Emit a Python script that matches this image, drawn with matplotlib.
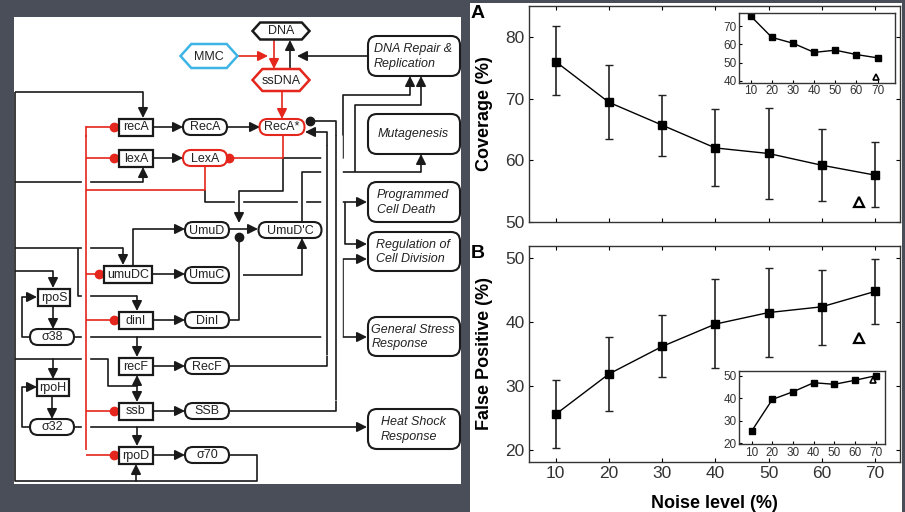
import matplotlib
matplotlib.use('Agg')
import matplotlib.pyplot as plt
from matplotlib.patches import Rectangle, FancyBboxPatch, Polygon
import matplotlib.patheffects as pe

plt.rcParams['font.family'] = ['Liberation Sans', 'DejaVu Sans']

# ---- chart data ----
noise = [10, 20, 30, 40, 50, 60, 70]
coverage = [76.0, 69.4, 65.7, 62.0, 61.1, 59.2, 57.6]
coverage_hi = [81.7, 75.4, 70.6, 68.3, 68.4, 65.0, 62.9]
coverage_lo = [70.5, 63.4, 60.7, 55.9, 53.7, 53.4, 52.4]
false_pos = [25.6, 31.9, 36.2, 39.7, 41.5, 42.4, 44.8]
false_pos_hi = [30.9, 37.7, 41.1, 46.7, 48.4, 48.2, 49.9]
false_pos_lo = [20.4, 26.1, 31.4, 32.9, 34.5, 36.5, 39.7]
tri_cov = (67, 53.3)
tri_fp = (67, 37.6)
inset_cov = [75.5, 63.8, 60.6, 55.6, 56.8, 54.4, 52.6]
inset_tri_cov = (69, 42.3)
inset_fp = [25.5, 39.5, 42.9, 46.9, 46.2, 48.0, 50.0]
inset_tri_fp = (68.5, 48.0)

# ---- network diagram (pixel layout) ----
RED = '#e4261c'
BLUE = '#3cb4e6'
INK = '#1a1a1a'

genes = [('recA', 136, 127, 34), ('lexA', 136, 158, 34), ('umuDC', 128, 274, 48),
         ('dinI', 136, 320, 34), ('recF', 136, 366, 34), ('ssb', 136, 411, 34),
         ('rpoD', 136, 455, 34), ('rpoS', 54, 297, 32), ('rpoH', 53, 387, 32)]
proteins = [('RecA', 205, 127, 44, INK), ('RecA*', 282, 127, 45, RED), ('LexA', 205, 158, 44, RED),
            ('UmuD', 207, 230, 44, INK), ("UmuD'C", 290, 230, 63, INK), ('UmuC', 207, 275, 44, INK),
            ('DinI', 207, 320, 44, INK), ('RecF', 207, 366, 44, INK), ('SSB', 207, 411, 44, INK),
            ('σ70', 207, 455, 44, INK), ('σ38', 52, 337, 44, INK), ('σ32', 52, 427, 44, INK)]
hexes = [('DNA', 281, 31, 57, 17, INK), ('MMC', 209, 56, 57, 24, BLUE), ('ssDNA', 281, 80, 57, 22, RED)]
phenos = [('DNA Repair &\nReplication', 36, 76, 'left'), ('Mutagenesis', 114, 154, 'center'),
          ('Programmed\nCell Death', 182, 222, 'left'), ('Regulation of\nCell Division', 232, 271, 'left'),
          ('General Stress\nResponse', 317, 356, 'left'), ('Heat Shock\nResponse', 409, 449, 'left')]

# polylines: points, end ('arrow', 'dot', None), colour
edges = [
    ([(237, 56), (268, 56)], 'arrow', RED),
    ([(274, 40), (274, 69)], 'arrow', RED),
    ([(290, 69), (290, 40)], 'arrow', INK),
    ([(368, 56), (297, 56)], 'arrow', INK),
    ([(282, 91), (282, 119)], 'arrow', RED),
    ([(153, 127), (183, 127)], 'arrow', INK),
    ([(227, 127), (260, 127)], 'arrow', INK),
    ([(153, 158), (183, 158)], 'arrow', INK),
    ([(15, 92), (143, 92), (143, 118)], 'arrow', INK),
    ([(15, 92), (15, 481), (257, 481), (257, 455), (230, 455)], None, INK),
    ([(136, 481), (136, 464)], 'arrow', INK),
    ([(15, 182), (143, 182), (143, 167)], 'arrow', INK),
    ([(15, 248), (123, 248), (123, 265)], 'arrow', INK),
    ([(78, 248), (78, 296), (137, 296), (137, 311)], 'arrow', INK),
    ([(15, 271), (53, 271), (53, 288)], 'arrow', INK),
    ([(15, 359), (108, 359), (108, 386), (137, 386), (137, 375)], 'arrow', INK),
    ([(137, 386), (137, 402)], 'arrow', INK),
    ([(53, 359), (53, 379)], 'arrow', INK),
    ([(53, 306), (53, 329)], 'arrow', INK),
    ([(30, 337), (22, 337), (22, 297), (37, 297)], 'arrow', INK),
    ([(52, 396), (52, 419)], 'arrow', INK),
    ([(30, 427), (22, 427), (22, 387), (37, 387)], 'arrow', INK),
    ([(74, 337), (367, 337)], 'arrow', INK),
    ([(137, 337), (137, 357)], 'arrow', INK),
    ([(343, 337), (343, 259), (367, 259)], 'arrow', INK),
    ([(74, 427), (367, 427)], 'arrow', INK),
    ([(137, 427), (137, 446)], 'arrow', INK),
    ([(133, 265), (133, 229), (185, 229)], 'arrow', INK),
    ([(152, 274), (185, 274)], 'arrow', INK),
    ([(152, 320), (185, 320)], 'arrow', INK),
    ([(152, 366), (185, 366)], 'arrow', INK),
    ([(152, 411), (185, 411)], 'arrow', INK),
    ([(152, 455), (185, 455)], 'arrow', INK),
    ([(230, 229), (258, 229)], 'arrow', INK),
    ([(283, 158), (283, 191), (239, 191), (239, 223)], 'arrow', INK),
    ([(283, 158), (343, 158), (343, 95), (410, 95), (410, 76)], 'arrow', INK),
    ([(230, 320), (239, 320), (239, 237)], 'dot', INK),
    ([(243, 275), (302, 275), (302, 238)], 'arrow', INK),
    ([(302, 222), (302, 172), (421, 172), (421, 154)], 'arrow', INK),
    ([(355, 172), (355, 105), (421, 105), (421, 76)], 'arrow', INK),
    ([(205, 190), (205, 202), (367, 202)], 'arrow', INK),
    ([(345, 202), (345, 244), (367, 244)], 'arrow', INK),
    ([(230, 366), (327, 366), (327, 132), (305, 132)], 'arrow', INK),
    ([(230, 411), (336, 411), (336, 121), (310, 121)], 'dot', INK),
]
# vertical runs that pass over crossing lines (start, end, colour, halo width)
bridges = [((327, 145), (327, 355), INK, 9), ((336, 135), (336, 400), INK, 9),
           ((239, 196), (239, 208), INK, 6), ((302, 190), (302, 214), INK, 6),
           ((86, 135), (86, 450), RED, 6)]
red_edges = [
    ([(283, 135), (283, 158), (229, 158)], 'dot'),
    ([(205, 167), (205, 190), (86, 190)], None),
    ([(86, 127), (114, 127)], 'dot'),
    ([(86, 158), (114, 158)], 'dot'),
    ([(86, 274), (99, 274)], 'dot'),
    ([(86, 320), (114, 320)], 'dot'),
    ([(86, 411), (114, 411)], 'dot'),
    ([(86, 455), (114, 455)], 'dot'),
    ([(86, 126.4), (86, 137)], None),
]

fig = plt.figure(figsize=(9.05, 5.12), dpi=100)
fig.patch.set_facecolor('#4a4e58')

dg = fig.add_axes([0, 0, 1, 1])
dg.set_xlim(0, 905)
dg.set_ylim(512, 0)
dg.axis('off')

dg.add_patch(Rectangle((14, 17), 447, 467, facecolor='white', edgecolor='none'))
dg.add_patch(Rectangle((470, 3), 432, 509, facecolor='white', edgecolor='none'))

LW = 1.2


def draw_edge(pts, end, color, z=2):
    xs = [p[0] for p in pts]
    ys = [p[1] for p in pts]
    if end == 'arrow':
        dg.plot(xs[:-1], ys[:-1], color=color, lw=LW, zorder=z, solid_capstyle='butt')
        dg.annotate('', xy=pts[-1], xytext=pts[-2],
                    arrowprops=dict(arrowstyle='-|>,head_length=0.6,head_width=0.3',
                                    color=color, lw=LW, shrinkA=0, shrinkB=0,
                                    mutation_scale=10), zorder=z)
    else:
        dg.plot(xs, ys, color=color, lw=LW, zorder=z, solid_capstyle='butt')
        if end == 'dot':
            dg.plot(xs[-1], ys[-1], 'o', color=color, ms=6, zorder=z + 1)


for pts, end, col in edges:
    draw_edge(pts, end, col)

for p0, p1, col, hw in bridges:
    dg.plot([p0[0], p1[0]], [p0[1], p1[1]], color=col, lw=LW, zorder=3,
            solid_capstyle='butt',
            path_effects=[pe.Stroke(linewidth=hw, foreground='white', capstyle='butt'),
                          pe.Normal()])

for pts, end in red_edges:
    draw_edge(pts, end, RED, z=4)

for name, cx, cy, w in genes:
    dg.add_patch(Rectangle((cx - w / 2, cy - 8.5), w, 17, facecolor='white',
                           edgecolor=INK, lw=1.6, zorder=5))
    dg.text(cx, cy + 0.5, name, ha='center', va='center', fontsize=9, color='#222', zorder=6)

for name, cx, cy, w, col in proteins:
    dg.add_patch(FancyBboxPatch((cx - w / 2, cy - 8), w, 16,
                                boxstyle='round,pad=0,rounding_size=8',
                                facecolor='white', edgecolor=col, lw=1.5, zorder=5))
    dg.text(cx, cy + 0.5, name, ha='center', va='center', fontsize=9, color='#222', zorder=6)

for name, cx, cy, w, h, col in hexes:
    k = h * 0.45
    hx = [(cx - w / 2, cy), (cx - w / 2 + k, cy - h / 2), (cx + w / 2 - k, cy - h / 2),
          (cx + w / 2, cy), (cx + w / 2 - k, cy + h / 2), (cx - w / 2 + k, cy + h / 2)]
    dg.add_patch(Polygon(hx, closed=True, facecolor='white', edgecolor=col,
                         lw=1.8, zorder=5))
    dg.text(cx, cy + 0.5, name, ha='center', va='center', fontsize=9, color='#222', zorder=6)

for name, y0, y1, al in phenos:
    dg.add_patch(FancyBboxPatch((368, y0), 92, y1 - y0,
                                boxstyle='round,pad=0,rounding_size=9',
                                facecolor='white', edgecolor=INK, lw=1.5, zorder=5))
    dg.text(413, (y0 + y1) / 2 + 0.5, name, ha='center', va='center', fontsize=9,
            style='italic', color='#222', linespacing=1.25, multialignment=al, zorder=6)


# ---- line charts ----
def style_axes(ax, fs):
    ax.tick_params(direction='in', top=True, right=True, length=3, width=0.8,
                   labelsize=fs, labelcolor='#333', pad=3)
    for s in ax.spines.values():
        s.set_linewidth(1.0)
        s.set_color('#333')


W, H = 905.0, 512.0

axA = fig.add_axes([529 / W, 1 - 222 / H, 371 / W, 216 / H])
axA.errorbar(noise, coverage,
             yerr=[[c - l for c, l in zip(coverage, coverage_lo)],
                   [h - c for c, h in zip(coverage, coverage_hi)]],
             fmt='s-', color='black', ms=6, lw=1.0, ecolor='#222', elinewidth=1.2, capsize=3)
axA.plot(tri_cov[0], tri_cov[1], '^', mfc='white', mec='black', ms=7, mew=1.6)
axA.set_xlim(5, 74.7)
axA.set_ylim(50, 85)
axA.set_xticks(noise)
axA.set_xticklabels([])
axA.set_yticks([50, 60, 70, 80])
style_axes(axA, 12.5)
axA.set_ylabel('Coverage (%)', fontsize=13, fontweight='bold', labelpad=9)

axB = fig.add_axes([529 / W, 1 - 461.7 / H, 371 / W, 215.7 / H])
axB.errorbar(noise, false_pos,
             yerr=[[c - l for c, l in zip(false_pos, false_pos_lo)],
                   [h - c for c, h in zip(false_pos, false_pos_hi)]],
             fmt='s-', color='black', ms=6, lw=1.0, ecolor='#222', elinewidth=1.2, capsize=3)
axB.plot(tri_fp[0], tri_fp[1], '^', mfc='white', mec='black', ms=7, mew=1.6)
axB.set_xlim(5, 74.7)
axB.set_ylim(18.2, 51.9)
axB.set_xticks(noise)
axB.set_yticks([20, 30, 40, 50])
style_axes(axB, 12.5)
axB.tick_params(axis='x', pad=3)
axB.set_ylabel('False Positive (%)', fontsize=13, fontweight='bold', labelpad=9)
axB.set_xlabel('Noise level (%)', fontsize=13, fontweight='bold', labelpad=10)

fig.text(478 / W, 1 - 13 / H, 'A', fontsize=14, fontweight='bold', ha='center', va='center')
fig.text(478 / W, 1 - 253 / H, 'B', fontsize=14, fontweight='bold', ha='center', va='center')

inA = fig.add_axes([739.3 / W, 1 - 82.7 / H, 155.7 / W, 69.4 / H])
inA.plot(noise, inset_cov, 's-', color='black', ms=4, lw=1.0)
inA.plot(inset_tri_cov[0], inset_tri_cov[1], '^', mfc='white', mec='black', ms=5, mew=1.2)
inA.set_xlim(4.6, 78.2)
inA.set_ylim(39, 77)
inA.set_xticks(noise)
inA.set_yticks([40, 50, 60, 70])
style_axes(inA, 8.5)
inA.tick_params(top=False, right=False, length=2, pad=2)

inB = fig.add_axes([739.3 / W, 1 - 444.3 / H, 145.7 / W, 73.3 / H])
inB.plot(noise, inset_fp, 's-', color='black', ms=4, lw=1.0)
inB.plot(inset_tri_fp[0], inset_tri_fp[1], '^', mfc='white', mec='black', ms=5, mew=1.2)
inB.set_xlim(4, 74.5)
inB.set_ylim(19.6, 52.1)
inB.set_xticks(noise)
inB.set_yticks([20, 30, 40, 50])
style_axes(inB, 8.5)
inB.tick_params(top=False, right=False, length=2, pad=2)

fig.savefig('out.png', dpi=100, facecolor=fig.get_facecolor())
